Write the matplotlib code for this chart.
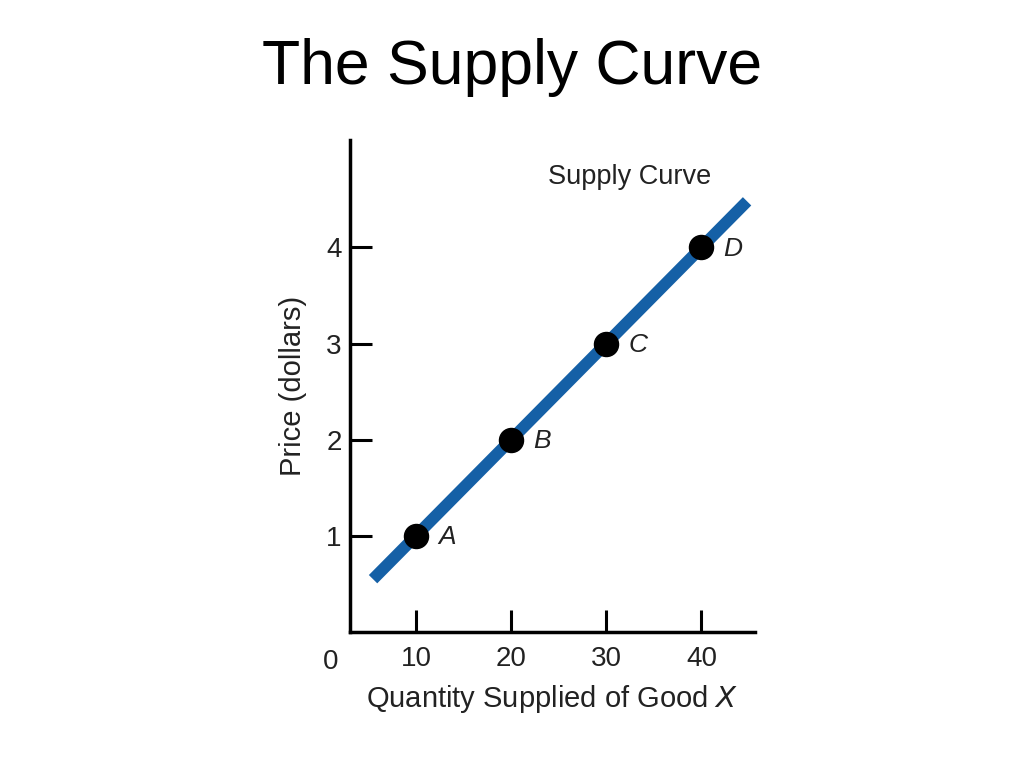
import matplotlib
matplotlib.use("Agg")
import matplotlib.pyplot as plt
import matplotlib.transforms as mtransforms

plt.rcParams['font.family'] = ['Liberation Sans', 'DejaVu Sans']

# Data
quantity = [10, 20, 30, 40]
price = [1, 2, 3, 4]
point_labels = ['A', 'B', 'C', 'D']
line_q = [5.5, 44.8]
line_p = [0.55, 4.48]
x_ticks = [10, 20, 30, 40]
y_ticks = [1, 2, 3, 4]

fig = plt.figure(figsize=(10.24, 7.68), dpi=100)
fig.text(0.5, 0.912, 'The Supply Curve', ha='center', va='center', fontsize=45, color='black')

ax = fig.add_axes([0.342, 0.177, 0.395, 0.641])
ax.set_xlim(3.1, 45.6)
ax.set_ylim(0, 5.12)

ax.plot(line_q, line_p, color='#1560a6', linewidth=8.5, solid_capstyle='butt', zorder=2)
ax.scatter(quantity, price, s=300, color='black', zorder=3)
for q, p, lab in zip(quantity, price, point_labels):
    ax.annotate(lab, (q, p), xytext=(16, -1), textcoords='offset points',
                ha='left', va='center', fontsize=19, style='italic', color='#222222')

ax.text(32.5, 4.73, 'Supply Curve', ha='center', va='center', fontsize=19.5, color='#222222')

for s in ['top', 'right']:
    ax.spines[s].set_visible(False)
for s in ['left', 'bottom']:
    ax.spines[s].set_linewidth(2.5)
    ax.spines[s].set_color('black')

ax.set_xticks(x_ticks)
ax.set_yticks(y_ticks)
ax.set_xticklabels([str(t) for t in x_ticks])
ax.set_yticklabels([str(t) for t in y_ticks])
ax.tick_params(axis='both', direction='in', length=16, width=2.2, labelsize=20, labelcolor='#222222')
ax.tick_params(axis='x', pad=10)
ax.tick_params(axis='y', pad=6)

trans = mtransforms.blended_transform_factory(ax.transData, ax.transAxes)
ax.text(1.0, -0.06, '0', transform=trans, ha='center', va='center', fontsize=20, color='#222222')

ax.set_xlabel('Quantity Supplied of Good $\\it{X}$', fontsize=21, color='#222222', labelpad=8)
ax.set_ylabel('Price (dollars)', fontsize=21, color='#222222', labelpad=14)

fig.savefig('out.png', dpi=100)
